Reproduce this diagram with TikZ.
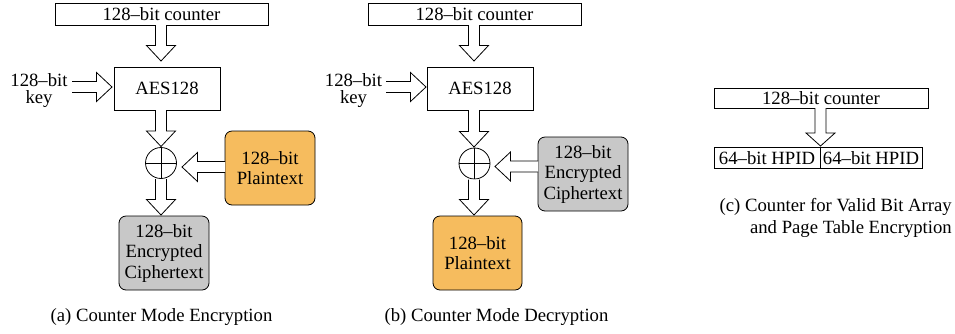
\documentclass[tikz,border=0pt]{standalone}
\usepackage{fontspec}
\setmainfont{Liberation Serif}
\usetikzlibrary{calc}
\definecolor{orangebox}{HTML}{F6BC5E}
\definecolor{graybox}{HTML}{C8C8C8}
\newcommand{\blockarrow}[2]{%
  \path coordinate (HB) at ($(#2)!15.5pt!(#1)$);
  \draw[blk] ($(#1)!5.5pt!90:(#2)$) -- ($(HB)!5.5pt!90:(#2)$) -- ($(HB)!14.5pt!90:(#2)$) -- (#2)
    -- ($(HB)!14.5pt!-90:(#2)$) -- ($(HB)!5.5pt!-90:(#2)$) -- ($(#1)!5.5pt!-90:(#2)$);
}
\newcommand{\smallblockarrow}[2]{%
  \path coordinate (HB) at ($(#2)!13pt!(#1)$);
  \draw[blk] ($(#1)!5.5pt!90:(#2)$) -- ($(HB)!5.5pt!90:(#2)$) -- ($(HB)!14.5pt!90:(#2)$) -- (#2)
    -- ($(HB)!14.5pt!-90:(#2)$) -- ($(HB)!5.5pt!-90:(#2)$) -- ($(#1)!5.5pt!-90:(#2)$);
}
\tikzset{
  blk/.style={draw=black, line width=0.8pt, fill=white, line join=miter},
  plainbox/.style={draw=black, line width=0.8pt, fill=white, inner sep=0pt, anchor=center},
  roundbox/.style={draw=black, line width=0.8pt, rounded corners=7pt, inner sep=0pt, align=center, minimum width=90pt, minimum height=74pt, font=\fontsize{18.7}{20.5}\selectfont},
  xorc/.style={draw=black, line width=0.8pt, circle, minimum size=31pt, inner sep=0pt},
  lbl/.style={inner sep=0pt, align=center},
}
\begin{document}
\begin{tikzpicture}[x=1pt,y=-1pt,font=\fontsize{18.7}{20.5}\selectfont]
\useasboundingbox (0,0) rectangle (955,333);
% ---------- (a) ----------
\node[plainbox, minimum width=213pt, minimum height=22pt] (cntA) at (161.5,14) {128\textendash bit counter};
\node[plainbox, minimum width=106pt, minimum height=43pt] (aesA) at (167,88.5) {AES128};
\node[xorc] (xorA) at (161,163) {};
\draw[line width=0.8pt] (xorA.north) -- (xorA.south) (xorA.west) -- (xorA.east);
\node[roundbox, fill=graybox] (cipA) at (164,253) {128\textendash bit\\Encrypted\\Ciphertext};
\node[roundbox, fill=orangebox] (ptA) at (270,168) {128\textendash bit\\Plaintext};
\node[lbl, anchor=base] (keyA1) at (39,86.5) {128\textendash bit};
\node[lbl, anchor=base] (keyA2) at (39,103) {key};
\coordinate (cA1) at (161,25);
\coordinate (cA2) at (161,61);
\blockarrow{cA1}{cA2}
\coordinate (kA1) at (72,87);
\coordinate (kA2) at (112,87);
\blockarrow{kA1}{kA2}
\coordinate (aA1) at (161,110);
\coordinate (aA2) at (161,146.5);
\blockarrow{aA1}{aA2}
\coordinate (xA1) at (161,179);
\coordinate (xA2) at (161,215);
\blockarrow{xA1}{xA2}
\coordinate (pA1) at (225,167);
\coordinate (pA2) at (182,167);
\blockarrow{pA1}{pA2}
\node[lbl] (capA) at (161.5,317) {(a) Counter Mode Encryption};
% ---------- (b) ----------
\node[plainbox, minimum width=213pt, minimum height=22pt] (cntB) at (474.5,14) {128\textendash bit counter};
\node[plainbox, minimum width=106pt, minimum height=43pt] (aesB) at (480,88.5) {AES128};
\node[xorc] (xorB) at (474.5,163.5) {};
\draw[line width=0.8pt] (xorB.north) -- (xorB.south) (xorB.west) -- (xorB.east);
\node[roundbox, fill=graybox] (cipB) at (583,174) {128\textendash bit\\Encrypted\\Ciphertext};
\node[roundbox, fill=orangebox, minimum width=89pt] (ptB) at (477.5,253) {128\textendash bit\\Plaintext};
\node[lbl, anchor=base] (keyB1) at (353.5,86.5) {128\textendash bit};
\node[lbl, anchor=base] (keyB2) at (353.5,103) {key};
\coordinate (cB1) at (474,25);
\coordinate (cB2) at (474,61);
\blockarrow{cB1}{cB2}
\coordinate (kB1) at (386,87);
\coordinate (kB2) at (426,87);
\blockarrow{kB1}{kB2}
\coordinate (aB1) at (474,110);
\coordinate (aB2) at (474,147);
\blockarrow{aB1}{aB2}
\coordinate (xB1) at (474,179.5);
\coordinate (xB2) at (474,215);
\blockarrow{xB1}{xB2}
\coordinate (pB1) at (538,166.5);
\coordinate (pB2) at (495,166.5);
\blockarrow{pB1}{pB2}
\node[lbl] (capB) at (496.5,317) {(b) Counter Mode Decryption};
% ---------- (c) ----------
\node[plainbox, minimum width=214pt, minimum height=20pt] (cntC) at (821,98) {128\textendash bit counter};
\node[plainbox, minimum width=106pt, minimum height=21pt] (hp1) at (767,158) {64\textendash bit HPID};
\node[plainbox, minimum width=102pt, minimum height=21pt] (hp2) at (871,158) {64\textendash bit HPID};
\coordinate (cC1) at (820.5,108);
\coordinate (cC2) at (820.5,146);
\smallblockarrow{cC1}{cC2}
\node[lbl, align=right, anchor=east, font=\fontsize{18.7}{22}\selectfont] (capC) at (952,218) {(c) Counter for Valid Bit Array\\and Page Table Encryption};
\end{tikzpicture}
\end{document}
